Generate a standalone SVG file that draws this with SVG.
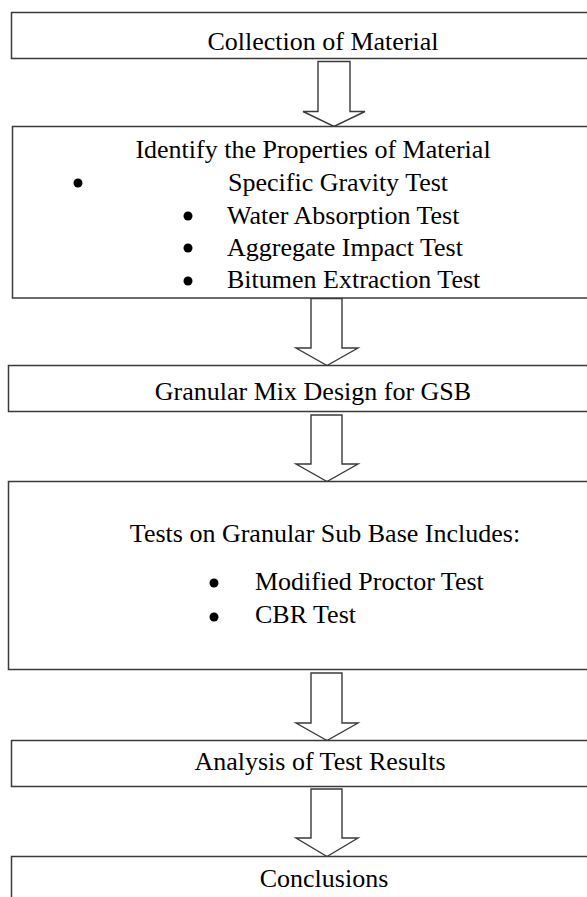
<svg xmlns="http://www.w3.org/2000/svg" width="587" height="897" viewBox="0 0 587 897">
<style>
.box{fill:#fff;stroke:#3a3a3a;stroke-width:1.5}
.arr{fill:#fff;stroke:#3a3a3a;stroke-width:1.4;stroke-linejoin:miter}
.t{font-family:"Liberation Serif","Times New Roman",serif;font-size:26px;fill:#000}
.c{text-anchor:middle}
.dot{fill:#000}
</style>
<rect x="0" y="0" width="587" height="897" fill="#fff"/>
<g id="connectors">
<path class="arr" d="M318,61.5 H350 V111.5 H365 L334,126.5 L303,111.5 H318 Z"/>
<path class="arr" d="M311,298.5 H342 V348 H358 L327,365.5 L296,348 H311 Z"/>
<path class="arr" d="M311,415 H342 V464 H358 L327,481.5 L296,464 H311 Z"/>
<path class="arr" d="M311,673 H342 V723 H358 L327,740.5 L296,723 H311 Z"/>
<path class="arr" d="M311,789 H342 V838 H358 L327,856.5 L296,838 H311 Z"/>
</g>
<g id="n1">
<rect class="box" x="11.5" y="12.5" width="600" height="46"/>
<text class="t c" x="323" y="50">Collection of Material</text>
</g>
<g id="n2">
<rect class="box" x="12.5" y="126.5" width="600" height="171.5"/>
<text class="t c" x="313" y="158">Identify the Properties of Material</text>
<circle class="dot" cx="78" cy="183" r="4.5"/>
<text class="t" x="228" y="191">Specific Gravity Test</text>
<circle class="dot" cx="188" cy="216" r="4.5"/>
<text class="t" x="227" y="224">Water Absorption Test</text>
<circle class="dot" cx="188" cy="248" r="4.5"/>
<text class="t" x="227" y="256">Aggregate Impact Test</text>
<circle class="dot" cx="188" cy="281" r="4.5"/>
<text class="t" x="227" y="288">Bitumen Extraction Test</text>
</g>
<g id="n3">
<rect class="box" x="8.5" y="365.5" width="600" height="46"/>
<text class="t c" x="313" y="400">Granular Mix Design for GSB</text>
</g>
<g id="n4">
<rect class="box" x="8.5" y="481.5" width="600" height="188"/>
<text class="t c" x="325" y="542">Tests on Granular Sub Base Includes:</text>
<circle class="dot" cx="214" cy="583" r="4.5"/>
<text class="t" x="255" y="590">Modified Proctor Test</text>
<circle class="dot" cx="214" cy="617" r="4.5"/>
<text class="t" x="255" y="623">CBR Test</text>
</g>
<g id="n5">
<rect class="box" x="11.5" y="740.5" width="600" height="46"/>
<text class="t c" x="320" y="770">Analysis of Test Results</text>
</g>
<g id="n6">
<rect class="box" x="11.5" y="856.5" width="600" height="60"/>
<text class="t c" x="324" y="887">Conclusions</text>
</g>
</svg>
